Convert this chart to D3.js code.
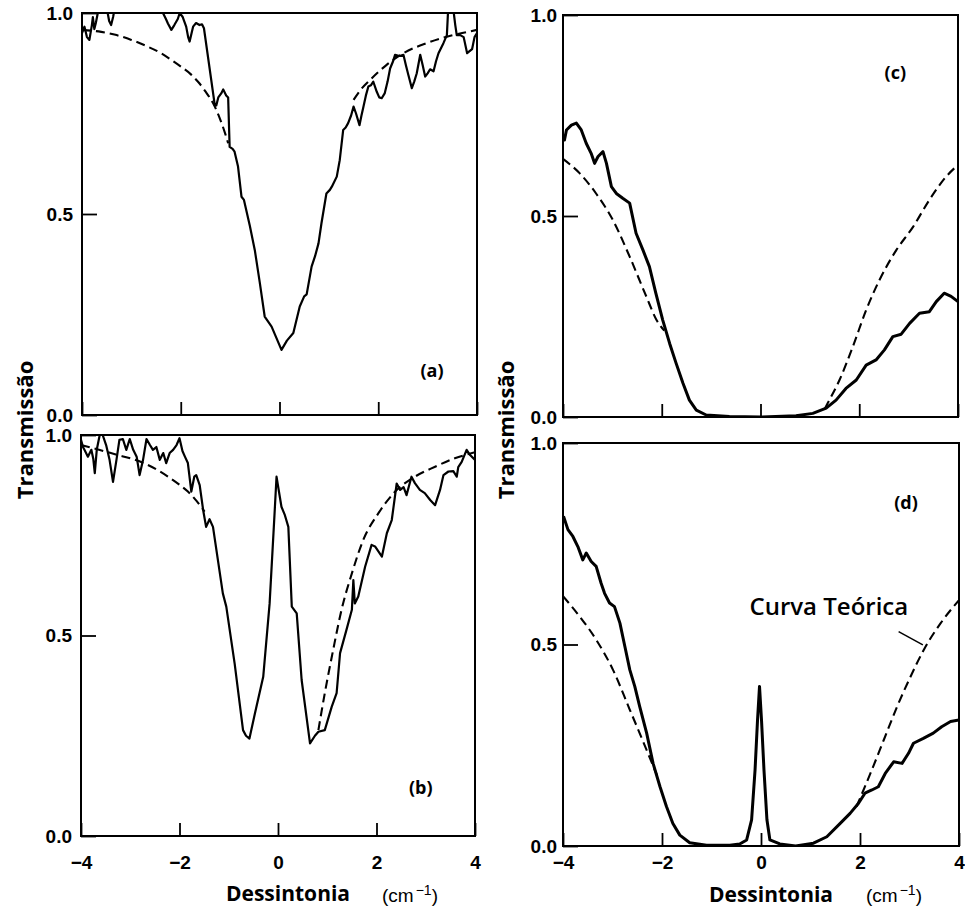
<!DOCTYPE html>
<html lang='pt'>
	<head>
		<meta charset='UTF-8'>
		<title>Transmissão vs Dessintonia</title>
		<style>
			body { margin: 0; background: #fff; }
			text { fill: #000; }
		</style>
	</head>
	<body>
		<svg id='graph' width='965' height='908'></svg>

		<script src='https://d3js.org/d3.v7.min.js'></script>
		<script>
			// tick values and labels
			const xTicks = [-4, -2, 0, 2, 4]
			const yTicks = [0, 0.5, 1]
			const yTickLabels = ['0.0', '0.5', '1.0']
			const xTitle = 'Dessintonia'
			const yTitle = 'Transmissão'
			const noteText = 'Curva Teórica'

			// measured transmission [detuning, T]
			const aMeasured = [[-4.0,0.95],[-3.95,0.966],[-3.9,0.94],[-3.85,0.933],[-3.8,0.97],[-3.78,0.99],[-3.75,0.96],[-3.72,0.975],[-3.68,1.0],[-3.65,1.01],[-3.55,1.02],[-3.48,1.0],[-3.45,0.98],[-3.41,0.97],[-3.37,0.99],[-3.34,1.01],[-3.2,1.04],[-2.9,1.05],[-2.6,1.03],[-2.4,1.01],[-2.36,1.0],[-2.3,0.985],[-2.26,0.974],[-2.19,0.958],[-2.13,0.97],[-2.06,0.985],[-2.02,1.0],[-1.96,0.99],[-1.89,0.966],[-1.85,0.94],[-1.82,0.929],[-1.78,0.95],[-1.75,0.966],[-1.69,0.975],[-1.62,0.97],[-1.57,0.972],[-1.53,0.962],[-1.31,0.77],[-1.28,0.77],[-1.24,0.79],[-1.18,0.80],[-1.14,0.81],[-1.08,0.795],[-1.04,0.79],[-1.01,0.667],[-0.95,0.662],[-0.91,0.655],[-0.84,0.618],[-0.77,0.543],[-0.72,0.535],[-0.60,0.47],[-0.50,0.41],[-0.40,0.33],[-0.30,0.245],[-0.16,0.22],[0.04,0.162],[0.15,0.185],[0.28,0.204],[0.41,0.27],[0.50,0.295],[0.55,0.30],[0.65,0.369],[0.72,0.395],[0.79,0.427],[0.85,0.477],[0.95,0.551],[1.02,0.56],[1.06,0.568],[1.16,0.593],[1.22,0.634],[1.29,0.709],[1.34,0.715],[1.39,0.726],[1.45,0.745],[1.50,0.767],[1.55,0.75],[1.62,0.721],[1.66,0.745],[1.70,0.767],[1.75,0.795],[1.80,0.817],[1.85,0.82],[1.90,0.829],[1.97,0.804],[2.02,0.79],[2.07,0.788],[2.13,0.80],[2.19,0.83],[2.24,0.862],[2.30,0.88],[2.34,0.896],[2.43,0.893],[2.51,0.896],[2.56,0.87],[2.61,0.846],[2.68,0.813],[2.73,0.83],[2.78,0.85],[2.85,0.896],[2.90,0.87],[2.95,0.842],[3.0,0.85],[3.05,0.86],[3.12,0.855],[3.17,0.88],[3.22,0.90],[3.32,0.925],[3.39,0.945],[3.42,1.02],[3.45,1.05],[3.5,1.04],[3.53,1.0],[3.56,0.97],[3.59,0.945],[3.66,0.945],[3.73,0.94],[3.80,0.90],[3.85,0.905],[3.90,0.91],[3.95,0.94],[4.0,0.95]]
			const bMeasured = [[-4.0,0.988],[-3.96,0.97],[-3.93,0.963],[-3.86,0.946],[-3.79,0.963],[-3.75,0.94],[-3.72,0.905],[-3.68,0.963],[-3.62,1.0],[-3.56,1.0],[-3.49,0.975],[-3.42,0.938],[-3.35,0.883],[-3.28,0.938],[-3.22,0.988],[-3.15,0.99],[-3.08,0.963],[-3.01,0.99],[-2.94,0.963],[-2.87,0.946],[-2.81,0.90],[-2.74,0.938],[-2.67,0.99],[-2.6,0.975],[-2.54,0.963],[-2.47,0.97],[-2.40,0.938],[-2.33,0.955],[-2.27,0.93],[-2.2,0.955],[-2.13,0.963],[-2.06,0.975],[-2.0,0.992],[-1.94,0.96],[-1.89,0.946],[-1.83,0.93],[-1.76,0.859],[-1.7,0.896],[-1.66,0.90],[-1.59,0.875],[-1.52,0.813],[-1.46,0.771],[-1.39,0.79],[-1.32,0.771],[-1.22,0.688],[-1.12,0.605],[-1.05,0.572],[-0.88,0.43],[-0.71,0.264],[-0.65,0.25],[-0.58,0.243],[-0.47,0.305],[-0.30,0.397],[-0.17,0.58],[-0.07,0.804],[-0.03,0.896],[0.07,0.821],[0.14,0.80],[0.21,0.771],[0.28,0.572],[0.38,0.555],[0.48,0.389],[0.65,0.231],[0.75,0.25],[0.82,0.26],[0.95,0.264],[1.09,0.322],[1.19,0.356],[1.26,0.456],[1.39,0.514],[1.50,0.564],[1.53,0.638],[1.56,0.58],[1.63,0.597],[1.77,0.672],[1.90,0.726],[1.97,0.722],[2.11,0.697],[2.21,0.755],[2.31,0.788],[2.41,0.879],[2.48,0.863],[2.55,0.87],[2.61,0.85],[2.71,0.896],[2.78,0.88],[2.88,0.863],[2.98,0.855],[3.09,0.838],[3.19,0.825],[3.29,0.863],[3.36,0.90],[3.46,0.909],[3.56,0.91],[3.63,0.896],[3.66,0.92],[3.73,0.933],[3.83,0.963],[3.9,0.95],[4.0,0.938]]
			const cMeasured = [[-4.0,0.69],[-3.97,0.689],[-3.93,0.714],[-3.83,0.726],[-3.73,0.731],[-3.63,0.714],[-3.53,0.681],[-3.43,0.656],[-3.36,0.631],[-3.29,0.648],[-3.19,0.66],[-3.12,0.631],[-3.02,0.573],[-2.92,0.556],[-2.79,0.544],[-2.65,0.532],[-2.52,0.457],[-2.38,0.415],[-2.25,0.374],[-2.12,0.308],[-1.98,0.241],[-1.84,0.183],[-1.71,0.134],[-1.57,0.084],[-1.44,0.042],[-1.30,0.017],[-1.10,0.005],[-0.63,0.001],[0.0,0.0],[0.72,0.003],[1.06,0.009],[1.33,0.022],[1.53,0.042],[1.73,0.071],[1.94,0.092],[2.14,0.129],[2.34,0.142],[2.51,0.167],[2.68,0.20],[2.85,0.206],[3.02,0.233],[3.22,0.258],[3.42,0.262],[3.56,0.287],[3.72,0.308],[3.86,0.30],[4.0,0.287]]
			const dMeasured = [[-3.99,0.818],[-3.90,0.785],[-3.80,0.768],[-3.70,0.743],[-3.60,0.71],[-3.53,0.727],[-3.43,0.706],[-3.33,0.694],[-3.23,0.652],[-3.16,0.627],[-3.06,0.603],[-2.96,0.594],[-2.85,0.553],[-2.75,0.495],[-2.65,0.437],[-2.55,0.396],[-2.45,0.346],[-2.31,0.28],[-2.18,0.205],[-2.04,0.147],[-1.91,0.098],[-1.78,0.056],[-1.64,0.027],[-1.44,0.008],[-1.10,0.002],[-0.63,0.002],[-0.43,0.005],[-0.29,0.015],[-0.19,0.065],[-0.12,0.189],[-0.07,0.313],[-0.03,0.396],[0.01,0.313],[0.06,0.189],[0.12,0.065],[0.18,0.015],[0.38,0.005],[0.7,0.0],[1.06,0.007],[1.33,0.023],[1.60,0.056],[1.80,0.081],[1.97,0.106],[2.10,0.131],[2.24,0.139],[2.37,0.147],[2.51,0.18],[2.68,0.209],[2.85,0.205],[2.98,0.23],[3.08,0.255],[3.28,0.267],[3.48,0.28],[3.65,0.296],[3.83,0.309],[4.0,0.313]]

			// theoretical curve, visible parts left and right of the dip
			const aTheoryLeft = [[-4,0.958],[-3.61,0.953],[-3.3,0.945],[-3.0,0.933],[-2.7,0.918],[-2.4,0.90],[-2.2,0.884],[-1.99,0.866],[-1.8,0.848],[-1.65,0.829],[-1.5,0.805],[-1.31,0.767],[-1.2,0.735],[-1.1,0.70],[-1.04,0.676]]
			const aTheoryRight = [[1.50,0.784],[1.65,0.81],[1.83,0.833],[2.0,0.853],[2.17,0.871],[2.51,0.90],[2.98,0.925],[3.39,0.941],[3.7,0.95],[4.0,0.958]]
			const bTheoryLeft = [[-4,0.975],[-3.6,0.962],[-3.25,0.95],[-2.95,0.94],[-2.71,0.929],[-2.45,0.913],[-2.23,0.896],[-2.0,0.876],[-1.83,0.859],[-1.65,0.835],[-1.49,0.809]]
			const bTheoryRight = [[0.82,0.264],[0.95,0.356],[1.12,0.464],[1.29,0.564],[1.50,0.655],[1.73,0.738],[2.04,0.805],[2.38,0.859],[2.78,0.896],[3.19,0.921],[3.59,0.942],[4.0,0.957]]
			const cTheoryLeft = [[-4.0,0.642],[-3.66,0.606],[-3.33,0.556],[-2.99,0.49],[-2.65,0.399],[-2.31,0.299],[-2.1,0.24],[-1.95,0.215]]
			const cTheoryRight = [[1.30,0.02],[1.36,0.034],[1.60,0.092],[1.87,0.175],[2.14,0.266],[2.41,0.341],[2.75,0.415],[3.09,0.473],[3.42,0.54],[3.76,0.598],[4.0,0.627]]
			const dTheoryLeft = [[-4,0.62],[-3.66,0.569],[-3.33,0.512],[-2.99,0.437],[-2.65,0.338],[-2.31,0.238],[-2.1,0.175]]
			const dTheoryRight = [[1.93,0.098],[2.21,0.18],[2.48,0.263],[2.75,0.346],[3.02,0.42],[3.29,0.487],[3.63,0.553],[4.0,0.61]]

			// pointer from the note to the theoretical curve in (d)
			const notePointer = [[2.78,0.532],[3.27,0.499]]

			const panels = [
				{ id: 'a', label: '(a)', box: [82, 13, 477, 415], measured: aMeasured, theory: [aTheoryLeft, aTheoryRight], width: 2.2, labelAt: [3.09, 0.112], xLabels: false, yPad: 9 },
				{ id: 'b', label: '(b)', box: [81, 435, 475, 836], measured: bMeasured, theory: [bTheoryLeft, bTheoryRight], width: 2.2, labelAt: [2.9, 0.122], xLabels: true, pad: 20, yPad: 9, titleY: 901, unitX: 382, unitY: 902 },
				{ id: 'c', label: '(c)', box: [563, 15, 958, 417], measured: cMeasured, theory: [cTheoryLeft, cTheoryRight], width: 3, labelAt: [2.73, 0.858], xLabels: false, yPad: 6 },
				{ id: 'd', label: '(d)', box: [563, 443, 959, 846], measured: dMeasured, theory: [dTheoryLeft, dTheoryRight], width: 3, labelAt: [2.93, 0.854], xLabels: true, pad: 10, yPad: 6, titleY: 902, unitX: 866, unitY: 902 }
			]

			const svg = d3.select('#graph')
			const defs = svg.append('defs')

			panels.forEach((p) => {
				const [x0, y0, x1, y1] = p.box
				const xScale = d3.scaleLinear().domain([-4, 4]).range([x0, x1])
				const yScale = d3.scaleLinear().domain([0, 1]).range([y1, y0])
				const g = svg.append('g')

				defs.append('clipPath').attr('id', 'clip-' + p.id)
					.append('rect')
					.attr('x', x0).attr('y', y0)
					.attr('width', x1 - x0).attr('height', y1 - y0)

				const xAxis = d3.axisBottom(xScale)
					.tickValues(xTicks)
					.tickSize(-13)
					.tickSizeOuter(0)
					.tickPadding(p.pad || 3)
					.tickFormat(p.xLabels ? d3.format('d') : '')
				const yAxis = d3.axisLeft(yScale)
					.tickValues(yTicks)
					.tickSize(-15)
					.tickSizeOuter(0)
					.tickPadding(p.yPad)
					.tickFormat((d, i) => yTickLabels[i])

				const gx = g.append('g')
					.attr('transform', `translate(0, ${y1})`)
					.call(xAxis)
				const gy = g.append('g')
					.attr('transform', `translate(${x0}, 0)`)
					.call(yAxis)

				for (const ax of [gx, gy]) {
					ax.select('.domain').remove()
					ax.selectAll('line').attr('stroke', '#000').attr('stroke-width', 1.8)
					ax.selectAll('text')
						.attr('fill', '#000')
						.style('font-family', "'Liberation Sans', Arial, sans-serif")
						.style('font-size', '19px')
						.style('font-weight', 'bold')
				}

				g.append('rect')
					.attr('x', x0).attr('y', y0)
					.attr('width', x1 - x0).attr('height', y1 - y0)
					.attr('fill', 'none')
					.attr('stroke', '#000')
					.attr('stroke-width', 2)

				const line = d3.line()
					.x((d) => xScale(d[0]))
					.y((d) => yScale(d[1]))

				const curves = g.append('g').attr('clip-path', `url(#clip-${p.id})`)

				p.theory.forEach((seg) => {
					curves.append('path')
						.attr('d', line.curve(d3.curveMonotoneX)(seg))
						.attr('fill', 'none')
						.attr('stroke', '#000')
						.attr('stroke-width', 2.1)
						.attr('stroke-dasharray', '9,5')
				})

				curves.append('path')
					.attr('d', line.curve(d3.curveLinear)(p.measured))
					.attr('fill', 'none')
					.attr('stroke', '#000')
					.attr('stroke-width', p.width)
					.attr('stroke-linejoin', 'round')

				g.append('text')
					.attr('x', xScale(p.labelAt[0]))
					.attr('y', yScale(p.labelAt[1]))
					.attr('text-anchor', 'middle')
					.attr('dominant-baseline', 'central')
					.style('font-family', "'Open Sans', sans-serif")
					.style('font-weight', 'bold')
					.style('font-size', '18px')
					.text(p.label)

				if (p.id == 'd') {
					g.append('text')
						.attr('x', xScale(1.37))
						.attr('y', yScale(0.574))
						.attr('text-anchor', 'middle')
						.style('font-family', "'Open Sans', sans-serif")
						.style('font-weight', 600)
						.style('font-size', '24px')
						.text(noteText)
					g.append('path')
						.attr('d', line.curve(d3.curveLinear)(notePointer))
						.attr('stroke', '#000')
						.attr('stroke-width', 1.5)
				}

				if (p.xLabels) {
					const cx = (x0 + x1) / 2 + 10
					g.append('text')
						.attr('x', cx)
						.attr('y', p.titleY)
						.attr('text-anchor', 'middle')
						.style('font-family', "'Open Sans', sans-serif")
						.style('font-weight', 'bold')
						.style('font-size', '21px')
						.text(xTitle)
					const u = g.append('text')
						.attr('x', p.unitX)
						.attr('y', p.unitY)
						.style('font-family', "'Liberation Sans', Arial, sans-serif")
						.style('font-size', '19px')
					u.append('tspan').text('(cm')
					u.append('tspan').attr('dx', 2).attr('dy', -7).style('font-size', '14px').text('−1')
					u.append('tspan').attr('dy', 7).text(')')
				}
			})

			// y titles
			for (const xPos of [33, 514]) {
				svg.append('text')
					.attr('transform', `translate(${xPos}, 430) rotate(-90)`)
					.attr('text-anchor', 'middle')
					.style('font-family', "'Open Sans', sans-serif")
					.style('font-weight', 'bold')
					.style('font-size', '22px')
					.text(yTitle)
			}
		</script>
	</body>
</html>
